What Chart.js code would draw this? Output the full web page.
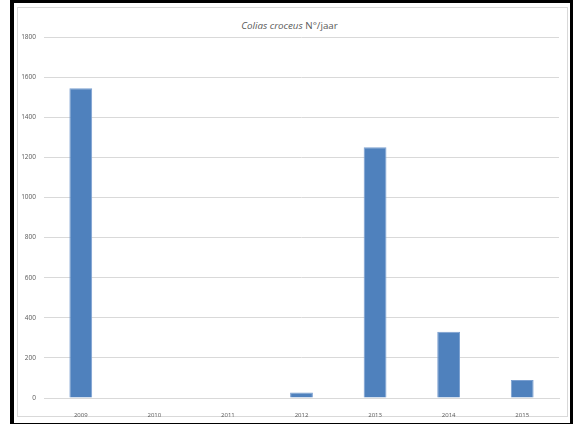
<!DOCTYPE html>
<html>
<head>
<meta charset="utf-8">
<script src="https://cdn.jsdelivr.net/npm/chart.js@4/dist/chart.umd.min.js"></script>
<style>
  html, body { margin: 0; padding: 0; background: #fff; }
  #wrap { position: relative; width: 579px; height: 424px; overflow: hidden; }
  #frame {
    position: absolute; left: 10px; top: 0; width: 556px; height: 420px;
    border-style: solid; border-color: #000;
    border-width: 3px 3px 3px 4px;
  }
  #inner {
    position: absolute; left: 17px; top: 7px; width: 549px; height: 408px;
    border: 1px solid #d9d9d9;
  }
  #title {
    position: absolute; left: 0; width: 579px; top: 19px; text-align: center;
    font-family: "Open Sans", sans-serif; font-size: 9.8px; color: #595959;
  }
  canvas { position: absolute; left: 0; top: 0; }
</style>
</head>
<body>
<div id="wrap">
  <div id="frame"></div>
  <div id="inner"></div>
  <div id="title"><i>Colias croceus</i> N°/jaar</div>
  <canvas id="chart" width="579" height="424"></canvas>
</div>
<script>
// data
const years = ['2009', '2010', '2011', '2012', '2013', '2014', '2015'];
const counts = [1545, 3, 0, 28, 1250, 330, 90];
const yTicks = [0, 200, 400, 600, 800, 1000, 1200, 1400, 1600, 1800];

const ctx = document.getElementById('chart').getContext('2d');

new Chart(ctx, {
    type: 'bar',
    data: {
        labels: years,
        datasets: [{
            label: 'Colias croceus',
            data: counts,
            backgroundColor: '#4f81bd',
            borderColor: '#7a9fd0',
            borderWidth: 1,
            barPercentage: 0.31,
            categoryPercentage: 1
        }]
    },
    options: {
        responsive: false,
        animation: false,
        layout: {
            padding: { top: 37, right: 20, bottom: 0, left: 0 }
        },
        plugins: {
            legend: { display: false },
            tooltip: { enabled: false }
        },
        scales: {
            x: {
                grid: { display: false },
                border: { display: true, color: '#d9d9d9' },
                ticks: {
                    color: '#595959',
                    font: { family: 'Open Sans', size: 6 },
                    padding: 6,
                    maxRotation: 0
                },
                afterFit: scale => { scale.height = 26; }
            },
            y: {
                min: 0,
                max: 1800,
                afterBuildTicks: scale => {
                    scale.ticks = yTicks.map(v => ({ value: v }));
                },
                grid: { color: '#d9d9d9', drawTicks: false },
                border: { display: false },
                ticks: {
                    color: '#595959',
                    font: { family: 'Open Sans', size: 6.5 },
                    padding: 8,
                    callback: v => String(v)
                },
                afterFit: scale => { scale.width = 44; }
            }
        }
    }
});
</script>
</body>
</html>
